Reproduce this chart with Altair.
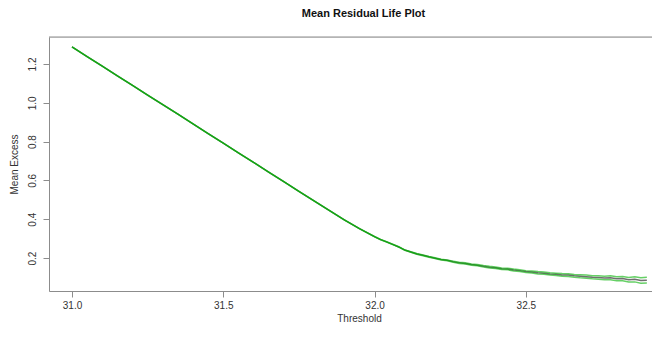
import altair as alt
import pandas as pd

threshold = [31.00, 31.05, 31.10, 31.15, 31.20, 31.25, 31.30, 31.35, 31.40, 31.45,
             31.50, 31.55, 31.60, 31.65, 31.70, 31.75, 31.80, 31.85, 31.90, 31.95,
             32.00, 32.02, 32.04, 32.06, 32.08, 32.10, 32.12, 32.14, 32.16, 32.18,
             32.20, 32.22, 32.24, 32.26, 32.28, 32.30, 32.32, 32.34, 32.36, 32.38,
             32.40, 32.42, 32.44, 32.46, 32.48, 32.50, 32.52, 32.54, 32.56, 32.58,
             32.60, 32.62, 32.64, 32.66, 32.68, 32.70, 32.72, 32.74, 32.76, 32.78,
             32.80, 32.82, 32.84, 32.86, 32.88, 32.90]

mean_excess = [1.288, 1.238, 1.189, 1.139, 1.090, 1.040, 0.990, 0.941, 0.891, 0.841,
               0.792, 0.742, 0.693, 0.643, 0.594, 0.544, 0.494, 0.445, 0.397, 0.351,
               0.310, 0.295, 0.283, 0.270, 0.257, 0.241, 0.231, 0.221, 0.214, 0.206,
               0.199, 0.192, 0.188, 0.181, 0.175, 0.172, 0.166, 0.163, 0.157, 0.153,
               0.150, 0.145, 0.143, 0.138, 0.135, 0.130, 0.128, 0.124, 0.122, 0.118,
               0.116, 0.113, 0.112, 0.108, 0.106, 0.104, 0.101, 0.100, 0.097, 0.098,
               0.093, 0.094, 0.088, 0.090, 0.084, 0.086]

ci_half = [0.000, 0.000, 0.000, 0.000, 0.000, 0.000, 0.000, 0.000, 0.000, 0.000,
           0.000, 0.000, 0.000, 0.000, 0.000, 0.000, 0.000, 0.000, 0.000, 0.000,
           0.001, 0.001, 0.001, 0.001, 0.001, 0.001, 0.001, 0.002, 0.002, 0.002,
           0.002, 0.002, 0.002, 0.003, 0.003, 0.003, 0.003, 0.003, 0.004, 0.004,
           0.004, 0.004, 0.004, 0.005, 0.005, 0.005, 0.005, 0.006, 0.006, 0.006,
           0.006, 0.007, 0.007, 0.007, 0.008, 0.008, 0.008, 0.009, 0.009, 0.010,
           0.010, 0.011, 0.012, 0.013, 0.014, 0.015]

x_ticks = [31.0, 31.5, 32.0, 32.5]
y_ticks = [0.2, 0.4, 0.6, 0.8, 1.0, 1.2]

mean_df = pd.DataFrame({"Threshold": threshold, "Mean Excess": mean_excess})
rows = []
for t, m, h in zip(threshold, mean_excess, ci_half):
    rows.append({"Threshold": t, "value": m + h, "band": "upper"})
    rows.append({"Threshold": t, "value": m - h, "band": "lower"})
band_df = pd.DataFrame(rows)
frame_df = pd.DataFrame({"edge": ["top"]})

FONT = "Liberation Sans"
FRAME = "#8c8c8c"
PLOT_W = 603
PLOT_H = 254

xscale = alt.Scale(domain=[30.924, 32.917], nice=False, zero=False)
yscale = alt.Scale(domain=[0.030, 1.339], nice=False, zero=False)

xaxis = alt.Axis(values=x_ticks, format=".1f", title="Threshold", grid=False,
                 domain=True, domainColor=FRAME, tickColor=FRAME, tickSize=6,
                 labelFont=FONT, labelFontSize=10, labelColor="#333333", labelPadding=3,
                 titleFont=FONT, titleFontSize=10, titleFontWeight="normal",
                 titleColor="#333333", titlePadding=3, titleX=310)
yaxis = alt.Axis(values=y_ticks, format=".1f", title="Mean Excess", grid=False,
                 domain=True, domainColor=FRAME, tickColor=FRAME, tickSize=6,
                 labelFont=FONT, labelFontSize=10, labelColor="#333333", labelPadding=6,
                 labelAngle=270, labelAlign="center", labelBaseline="bottom",
                 titleFont=FONT, titleFontSize=10, titleFontWeight="normal",
                 titleColor="#333333", titlePadding=8)

mean_line = alt.Chart(mean_df).mark_line(color="#707070", strokeWidth=1.5).encode(
    x=alt.X("Threshold:Q", scale=xscale, axis=xaxis),
    y=alt.Y("Mean Excess:Q", scale=yscale, axis=yaxis),
)

bands = alt.Chart(band_df).mark_line(color="#00b000", strokeWidth=1.5, opacity=0.6).encode(
    x=alt.X("Threshold:Q", scale=xscale),
    y=alt.Y("value:Q", scale=yscale),
    detail="band:N",
)

top_frame = alt.Chart(frame_df).mark_rule(color=FRAME, strokeWidth=1).encode(
    x=alt.value(0), x2=alt.value(PLOT_W + 10), y=alt.value(0)
)

chart = alt.layer(mean_line, bands, top_frame).properties(
    width=PLOT_W,
    height=PLOT_H,
    title=alt.TitleParams("Mean Residual Life Plot", font=FONT, fontSize=11,
                          fontWeight="bold", color="#111111", offset=18, anchor="middle", dx=13),
    autosize=alt.AutoSizeParams(type="none"),
    padding={"left": 41, "top": 29, "right": 0, "bottom": 33},
).configure_view(stroke=None).configure(background="white")

chart.save("out.html", embed_options={"renderer": "svg", "actions": False})
